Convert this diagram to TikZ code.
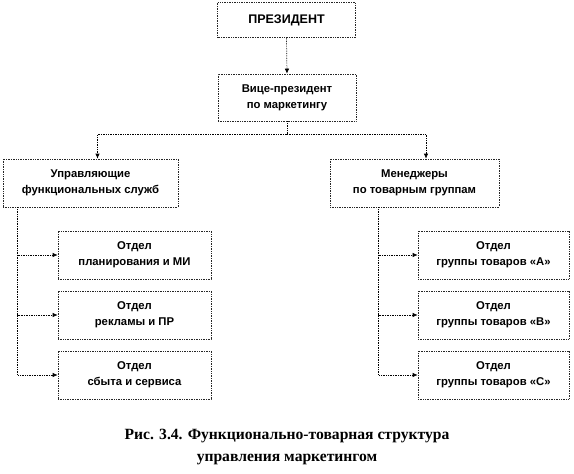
\documentclass[tikz,border=0pt]{standalone}
\usepackage{fontspec}
\setmainfont{Liberation Serif}
\newfontfamily\boxfont{Liberation Sans}
\usetikzlibrary{arrows.meta,positioning,calc}
\begin{document}
\begin{tikzpicture}[x=1pt,y=-1pt,
  orgbox/.style={draw=black!85, densely dotted, line width=0.7pt, rectangle, align=center,
    font=\boxfont\bfseries\fontsize{11.3}{16}\selectfont, inner sep=0pt},
  conn/.style={draw=black, densely dotted, line width=0.7pt},
  arr/.style={conn, -{Latex[length=5pt,width=4.5pt]}}]
\useasboundingbox (0,0) rectangle (574,474);
\node[orgbox, minimum width=138, minimum height=35] (pres) at (286.5,20) {\fontsize{12.5}{16}\selectfont ПРЕЗИДЕНТ};
\node[orgbox, minimum width=138, minimum height=47] (vice) at (287,97.5) {Вице-президент\\по маркетингу};
\node[orgbox, minimum width=175, minimum height=48] (left) at (90.5,183) {Управляющие\\функциональных служб};
\node[orgbox, minimum width=169, minimum height=48] (right) at (414.5,183) {Менеджеры\\по товарным группам};
\node[orgbox, minimum width=153, minimum height=48] (l1) at (134.5,255) {Отдел\\планирования и МИ};
\node[orgbox, minimum width=153, minimum height=48] (l2) at (134.5,315) {Отдел\\рекламы и ПР};
\node[orgbox, minimum width=153, minimum height=48] (l3) at (134.5,375) {Отдел\\сбыта и сервиса};
\node[orgbox, minimum width=151, minimum height=48] (r1) at (493.5,255) {Отдел\\группы товаров «А»};
\node[orgbox, minimum width=151, minimum height=48] (r2) at (493.5,315) {Отдел\\группы товаров «В»};
\node[orgbox, minimum width=151, minimum height=48] (r3) at (493.5,375) {Отдел\\группы товаров «С»};
\draw[arr] (pres.south) -- (vice.north);
\coordinate (split) at ($(vice.south)+(0,13)$);
\draw[conn] (vice.south) -- (split);
\draw[arr] (split) -| ([xshift=7pt]left.north);
\draw[arr] (split) -| ([xshift=11.5pt]right.north);
\coordinate (ls) at ([xshift=15pt]left.south west);
\coordinate (rs) at ([xshift=49pt]right.south west);
\draw[arr] (ls) |- (l1.west);
\draw[arr] (ls) |- (l2.west);
\draw[arr] (ls) |- (l3.west);
\draw[arr] (rs) |- (r1.west);
\draw[arr] (rs) |- (r2.west);
\draw[arr] (rs) |- (r3.west);
\node[align=center, font=\bfseries\fontsize{15.6}{22}\selectfont] (cap) at (287,447) {Рис. 3.4. Функционально-товарная структура\\управления маркетингом};
\end{tikzpicture}
\end{document}
